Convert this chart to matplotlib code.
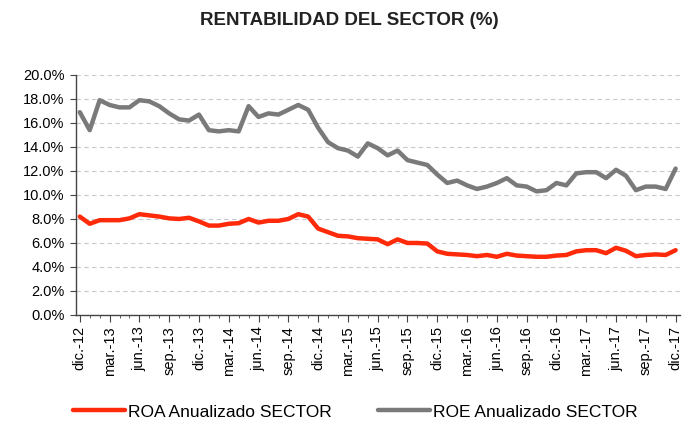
import matplotlib
matplotlib.use("Agg")
import matplotlib.pyplot as plt
from matplotlib.ticker import FuncFormatter, MultipleLocator

plt.rcParams['font.family'] = ['Liberation Sans', 'DejaVu Sans']

# monthly data, dic-12 .. dic-17
roa = [8.2, 7.6, 7.9, 7.9, 7.9, 8.05, 8.4, 8.3, 8.2, 8.05, 8.0, 8.1,
       7.8, 7.45, 7.45, 7.6, 7.65, 8.0, 7.7, 7.85, 7.85, 8.0, 8.4, 8.2,
       7.2, 6.9, 6.6, 6.55, 6.4, 6.35, 6.3, 5.9, 6.3, 6.0, 6.0, 5.95,
       5.3, 5.1, 5.05, 5.0, 4.9, 5.0, 4.85, 5.1, 4.95, 4.9, 4.85, 4.85,
       4.95, 5.0, 5.3, 5.4, 5.4, 5.15, 5.6, 5.35, 4.9, 5.0, 5.05, 5.0, 5.4]
roe = [16.9, 15.4, 17.9, 17.5, 17.3, 17.3, 17.9, 17.8, 17.4, 16.8, 16.3, 16.2,
       16.7, 15.4, 15.3, 15.4, 15.3, 17.4, 16.5, 16.8, 16.7, 17.1, 17.5, 17.1,
       15.6, 14.4, 13.9, 13.7, 13.2, 14.3, 13.9, 13.3, 13.7, 12.9, 12.7, 12.5,
       11.7, 11.0, 11.2, 10.8, 10.5, 10.7, 11.0, 11.4, 10.8, 10.7, 10.3, 10.4,
       11.0, 10.8, 11.8, 11.9, 11.9, 11.4, 12.1, 11.6, 10.4, 10.7, 10.7, 10.5, 12.2]
tick_labels = ['dic.-12', 'mar.-13', 'jun.-13', 'sep.-13', 'dic.-13', 'mar.-14',
               'jun.-14', 'sep.-14', 'dic.-14', 'mar.-15', 'jun.-15', 'sep.-15',
               'dic.-15', 'mar.-16', 'jun.-16', 'sep.-16', 'dic.-16', 'mar.-17',
               'jun.-17', 'sep.-17', 'dic.-17']

x = list(range(len(roa)))

fig = plt.figure(figsize=(6.83, 4.26), dpi=100)
ax = fig.add_axes([0.111, 0.2606, 0.884, 0.5634])

ax.plot(x, roa, color='#ff2a0a', lw=3.2, solid_capstyle='round', solid_joinstyle='round',
        label='ROA Anualizado SECTOR')
ax.plot(x, roe, color='#7a7a7a', lw=3.2, solid_capstyle='round', solid_joinstyle='round',
        label='ROE Anualizado SECTOR')

ax.set_ylim(0, 20)
ax.set_xlim(-0.4, 60.4)
ax.yaxis.set_major_locator(MultipleLocator(2))
ax.yaxis.set_major_formatter(FuncFormatter(lambda v, p: f"{v:.1f}%"))
ax.set_xticks(range(0, 61, 3))
ax.set_xticklabels(tick_labels, rotation=90)
ax.set_xticks(x, minor=True)
ax.tick_params(axis='x', which='minor', length=2, color='#444444')
ax.tick_params(axis='x', which='major', length=5, color='#444444', labelsize=10.5, pad=3)
ax.tick_params(axis='y', length=4, color='#444444', labelsize=10.5, pad=4)

ax.grid(axis='y', color='#c8c8d0', linestyle=(0, (4, 3)), lw=0.8)
ax.set_axisbelow(True)
for s in ['top', 'right']:
    ax.spines[s].set_visible(False)
for s in ['left', 'bottom']:
    ax.spines[s].set_color('#444444')
    ax.spines[s].set_linewidth(1.0)

fig.text(0.511, 0.952, 'RENTABILIDAD DEL SECTOR (%)', ha='center', va='center',
         fontsize=13.5, fontweight='bold', color='#222222')

fig.legend(loc='center', bbox_to_anchor=(0.52, 0.033), ncol=2, frameon=False,
           fontsize=12.5, handlelength=3.0, handletextpad=0.15, columnspacing=2.7)

fig.savefig('out.png', dpi=100)
